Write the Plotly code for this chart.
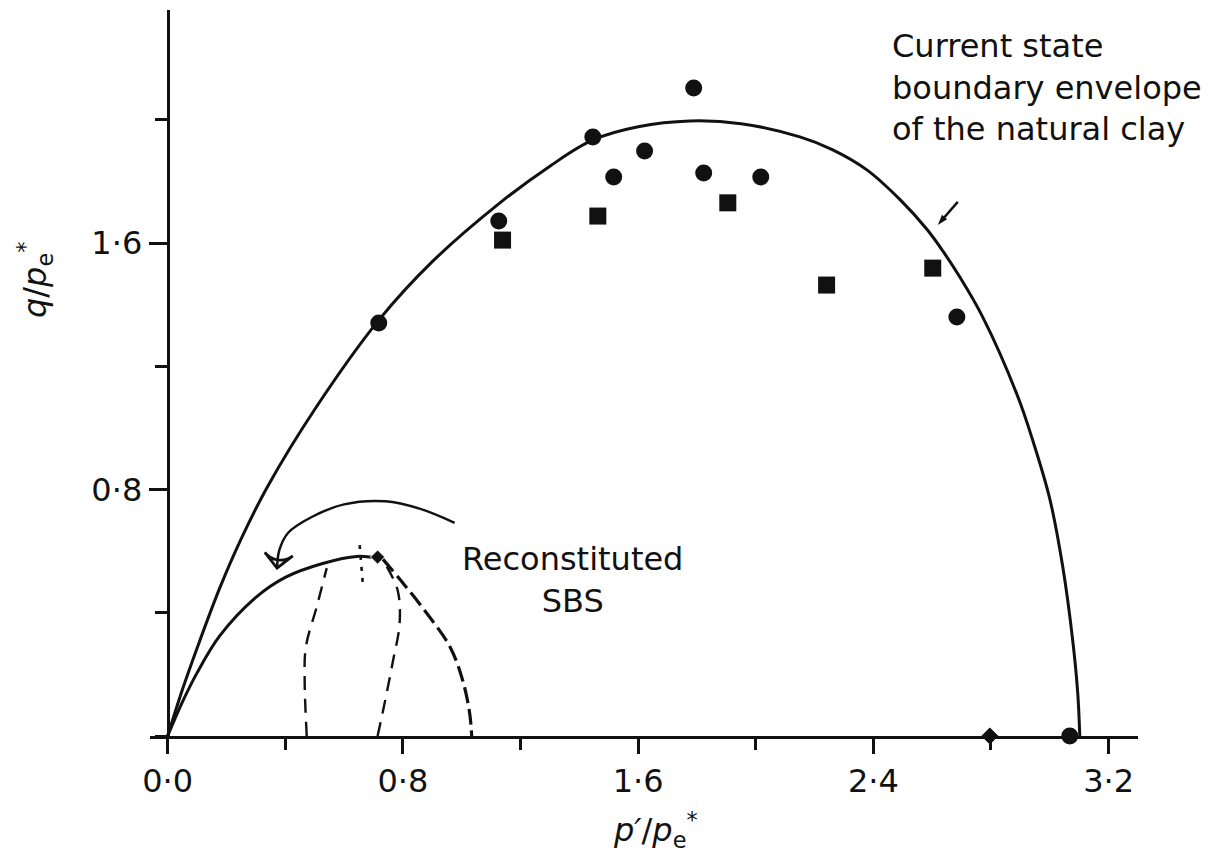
import plotly.graph_objects as go

# Measured states (normalised stresses)
circle_p = [0.718, 1.126, 1.446, 1.517, 1.622, 1.789, 1.823, 2.017, 2.684, 3.068]
circle_q = [1.341, 1.672, 1.945, 1.815, 1.899, 2.104, 1.828, 1.815, 1.360, 0.0]
square_p = [1.139, 1.463, 1.905, 2.241, 2.602]
square_q = [1.610, 1.688, 1.731, 1.464, 1.519]
diamond_p = [0.714, 2.796]
diamond_q = [0.581, 0.0]

# Current state boundary envelope of the natural clay
env_p = [0.0, 0.05, 0.1, 0.177, 0.25, 0.34, 0.5, 0.718, 0.9, 1.129, 1.3, 1.446,
         1.6, 1.776, 1.95, 2.15, 2.262, 2.378, 2.49, 2.582, 2.636, 2.694, 2.772,
         2.888, 2.942, 3.0, 3.044, 3.078, 3.095, 3.102]
env_q = [0.0, 0.15, 0.285, 0.48, 0.64, 0.81, 1.06, 1.35, 1.54, 1.73, 1.85, 1.935,
         1.978, 1.997, 1.988, 1.945, 1.903, 1.838, 1.742, 1.645, 1.575, 1.49, 1.36,
         1.11, 0.96, 0.77, 0.55, 0.31, 0.14, 0.0]

# Reconstituted SBS boundary: rising (solid) and falling (dashed) parts
sbs_rise_p = [0.0, 0.05, 0.1, 0.177, 0.3, 0.4, 0.527, 0.643, 0.731]
sbs_rise_q = [0.0, 0.11, 0.205, 0.325, 0.45, 0.515, 0.56, 0.583, 0.575]
sbs_fall_p = [0.731, 0.8, 0.88, 0.96, 1.003, 1.027, 1.034]
sbs_fall_q = [0.575, 0.497, 0.4, 0.29, 0.182, 0.075, 0.0]

# Inner stress paths of the reconstituted samples
path1_p = [0.473, 0.466, 0.47, 0.507, 0.541]
path1_q = [0.0, 0.18, 0.289, 0.42, 0.545]
path2_p = [0.653, 0.66, 0.665]
path2_q = [0.62, 0.55, 0.48]
path3_p = [0.714, 0.731, 0.765, 0.789, 0.782, 0.745]
path3_q = [0.0, 0.075, 0.237, 0.367, 0.474, 0.55]

# Curved pointer from the SBS label to its boundary
pointer_p = [0.976, 0.857, 0.74, 0.6, 0.49, 0.41, 0.38, 0.372]
pointer_q = [0.692, 0.738, 0.762, 0.752, 0.711, 0.66, 0.604, 0.545]

# Short pointer onto the natural clay envelope
tag_p = [2.687, 2.619]
tag_q = [1.734, 1.659]

x_ticks = [0.0, 0.8, 1.6, 2.4, 3.2]
x_labels = ["0·0", "0·8", "1·6", "2·4", "3·2"]
y_ticks = [0.8, 1.6]
y_labels = ["0·8", "1·6"]

FONT = "DejaVu Sans"
INK = "#111111"
X_RANGE = [-0.06, 3.30]
Y_RANGE = [0.0, 2.357]

# Page layout in pixels
W, H = 1224, 856
L, R, T, B = 150, 86, 10, 120
PW, PH = W - L - R, H - T - B


def px_to_paper(px, py):
    return (px - L) / PW, (H - B - py) / PH


fig = go.Figure()

fig.add_trace(go.Scatter(x=env_p, y=env_q, mode="lines",
                         line=dict(color=INK, width=3, shape="spline", smoothing=1.0)))
fig.add_trace(go.Scatter(x=sbs_rise_p, y=sbs_rise_q, mode="lines",
                         line=dict(color=INK, width=3, shape="spline", smoothing=1.0)))
fig.add_trace(go.Scatter(x=sbs_fall_p, y=sbs_fall_q, mode="lines",
                         line=dict(color=INK, width=3.2, dash="16px,6px", shape="spline")))
fig.add_trace(go.Scatter(x=path1_p, y=path1_q, mode="lines",
                         line=dict(color=INK, width=2.4, dash="14px,9px", shape="spline")))
fig.add_trace(go.Scatter(x=path2_p, y=path2_q, mode="lines",
                         line=dict(color=INK, width=2.6, dash="4px,7px")))
fig.add_trace(go.Scatter(x=path3_p, y=path3_q, mode="lines",
                         line=dict(color=INK, width=2.4, dash="14px,9px", shape="spline")))

# Curved pointer with an open arrow head at its end
n_ptr = len(pointer_p)
fig.add_trace(go.Scatter(
    x=pointer_p, y=pointer_q, mode="lines+markers",
    line=dict(color=INK, width=2.5, shape="spline", smoothing=1),
    marker=dict(symbol=["circle"] * (n_ptr - 1) + ["arrow-wide-open"],
                size=[0] * (n_ptr - 1) + [20], angleref="previous", opacity=1,
                color=INK, line=dict(color=INK, width=2.8))))

# Short pointer with a solid head
fig.add_trace(go.Scatter(
    x=tag_p, y=tag_q, mode="lines+markers",
    line=dict(color=INK, width=2.5),
    marker=dict(symbol=["circle", "arrow"], size=[0, 11], angleref="previous", opacity=1,
                color=INK, line=dict(width=0))))

fig.add_trace(go.Scatter(x=circle_p, y=circle_q, mode="markers", cliponaxis=False,
                         marker=dict(symbol="circle", size=17, color=INK)))
fig.add_trace(go.Scatter(x=square_p, y=square_q, mode="markers", cliponaxis=False,
                         marker=dict(symbol="square", size=17, color=INK)))
fig.add_trace(go.Scatter(x=diamond_p, y=diamond_q, mode="markers", cliponaxis=False,
                         marker=dict(symbol="diamond", size=[11, 14], opacity=1, color=INK)))

# Labels
fig.add_annotation(x=2.456, y=2.104, xref="x", yref="y", xanchor="left", yanchor="middle",
                   align="left", showarrow=False,
                   text="Current state<br>boundary envelope<br>of the natural clay",
                   font=dict(family=FONT, size=32, color=INK))
fig.add_annotation(x=1.378, y=0.506, xref="x", yref="y", xanchor="center", yanchor="middle",
                   align="center", showarrow=False, text="Reconstituted<br>SBS",
                   font=dict(family=FONT, size=32, color=INK))

# Axis titles
tx, ty = px_to_paper(655, 830)
fig.add_annotation(x=tx, y=ty, xref="paper", yref="paper", showarrow=False,
                   xanchor="center", yanchor="middle",
                   text="<i>p′</i>/<i>p</i><sub>e</sub><sup>*</sup>",
                   font=dict(family=FONT, size=32, color=INK))
tx, ty = px_to_paper(10, 240)
fig.add_annotation(x=tx, y=ty, xref="paper", yref="paper", showarrow=False,
                   text="<i>q</i>/<i>p</i><sub>e</sub><sup>*</sup>", textangle=-90,
                   font=dict(family=FONT, size=32, color=INK))

fig.update_layout(
    width=W, height=H,
    margin=dict(l=L, r=R, t=T, b=B),
    paper_bgcolor="white", plot_bgcolor="white",
    showlegend=False,
    font=dict(family=FONT, size=32, color=INK),
    xaxis=dict(range=X_RANGE, showgrid=False, zeroline=False,
               showline=True, linecolor=INK, linewidth=3,
               tickmode="array", tickvals=x_ticks, ticktext=x_labels,
               ticks="outside", ticklen=15, tickwidth=2.5, tickcolor=INK,
               tickfont=dict(family=FONT, size=32, color=INK),
               minor=dict(ticks="outside", ticklen=11, tickwidth=2.5, tickcolor=INK,
                          tick0=0, dtick=0.4)),
    yaxis=dict(range=Y_RANGE, showgrid=False, zeroline=False,
               anchor="free", position=(0 - X_RANGE[0]) / (X_RANGE[1] - X_RANGE[0]),
               showline=True, linecolor=INK, linewidth=3,
               tickmode="array", tickvals=y_ticks, ticktext=y_labels,
               ticks="outside", ticklen=18, tickwidth=2.5, tickcolor=INK,
               tickfont=dict(family=FONT, size=32, color=INK),
               minor=dict(ticks="outside", ticklen=12, tickwidth=2.5, tickcolor=INK,
                          tick0=0.4, dtick=0.4)),
)

fig.write_html("out.html")
